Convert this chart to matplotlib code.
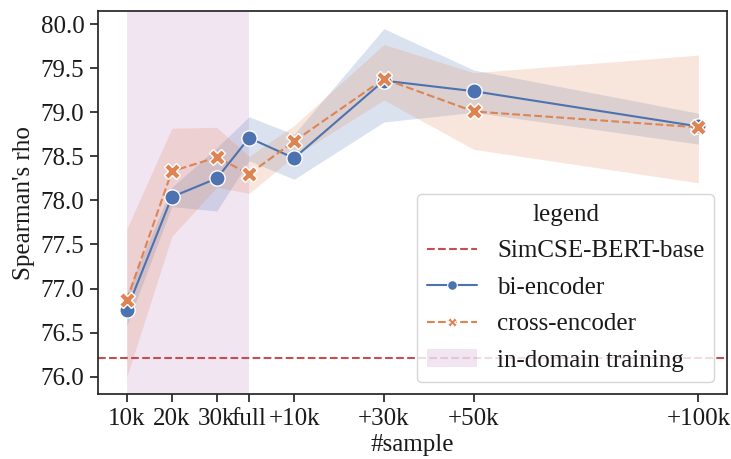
import matplotlib
matplotlib.use('Agg')
import matplotlib.pyplot as plt
import seaborn as sns
from matplotlib.lines import Line2D
from matplotlib.patches import Patch

# x positions (#samples); "full" is about 37.2k
samples = [10000, 20000, 30000, 37200, 47200, 67200, 87200, 137200]
tick_labels = ['10k', '20k', '30k', 'full', '+10k', '+30k', '+50k', '+100k']

bi_mean = [76.76, 78.04, 78.25, 78.71, 78.48, 79.36, 79.24, 78.84]
bi_low = [76.58, 77.93, 77.88, 78.45, 78.24, 78.89, 79.00, 78.64]
bi_high = [76.95, 78.15, 78.60, 78.95, 78.75, 79.95, 79.48, 78.99]

cross_mean = [76.87, 78.33, 78.49, 78.30, 78.67, 79.38, 79.01, 78.83]
cross_low = [76.00, 77.59, 78.15, 78.08, 78.50, 79.14, 78.58, 78.20]
cross_high = [77.68, 78.82, 78.83, 78.50, 78.85, 79.77, 79.45, 79.65]

simcse_base = 76.21

sns.set_theme(style='ticks')
plt.rcParams['font.family'] = ['Liberation Serif', 'DejaVu Serif']
fs = 18

blue, orange, red = sns.color_palette('deep')[0], sns.color_palette('deep')[1], sns.color_palette('deep')[3]

fig, ax = plt.subplots(figsize=(7.31, 4.59), dpi=100)
fig.subplots_adjust(left=0.1345, right=0.9945, top=0.976, bottom=0.141)

ax.axvspan(samples[0], samples[3], color='purple', alpha=0.1, lw=0)
ax.axhline(simcse_base, color=red, ls='--', lw=1.5)

ax.fill_between(samples, bi_low, bi_high, color=blue, alpha=0.2, lw=0)
ax.fill_between(samples, cross_low, cross_high, color=orange, alpha=0.2, lw=0)

ax.plot(samples, bi_mean, color=blue, lw=1.5, marker='o', ms=11,
        mec='white', mew=1)
ax.plot(samples, cross_mean, color=orange, lw=1.5, ls=(0, (3.7, 1.6)), marker='X', ms=11,
        mec='white', mew=1)

ax.set_xticks(samples)
ax.set_xticklabels(tick_labels)
ax.tick_params(axis='both', labelsize=fs, length=6, width=1.25, color='.15',
               labelcolor='.1', pad=4)
ax.set_yticks([76.0, 76.5, 77.0, 77.5, 78.0, 78.5, 79.0, 79.5, 80.0])
ax.set_ylim(75.8, 80.15)
ax.set_xlabel('#sample', fontsize=fs, labelpad=3, color='.1')
ax.set_ylabel("Spearman's rho", fontsize=fs, labelpad=4, color='.1')
for s in ax.spines.values():
    s.set_linewidth(1.25)
    s.set_color('.15')

handles = [
    Line2D([], [], color=red, ls='--', lw=1.5),
    Line2D([], [], color=blue, lw=1.5, marker='o', ms=7, mec='white', mew=0.8),
    Line2D([], [], color=orange, lw=1.5, ls=(0, (3.7, 1.6)), marker='X', ms=7, mec='white', mew=0.8),
    Patch(facecolor='purple', alpha=0.1, lw=0),
]
labels = ['SimCSE-BERT-base', 'bi-encoder', 'cross-encoder', 'in-domain training']
leg = ax.legend(handles, labels, title='legend', loc='lower right', fontsize=fs,
                title_fontsize=fs, labelspacing=0.56)
for t in leg.get_texts():
    t.set_color('.1')
leg.get_title().set_color('.1')

plt.savefig('out.png', dpi=100)
